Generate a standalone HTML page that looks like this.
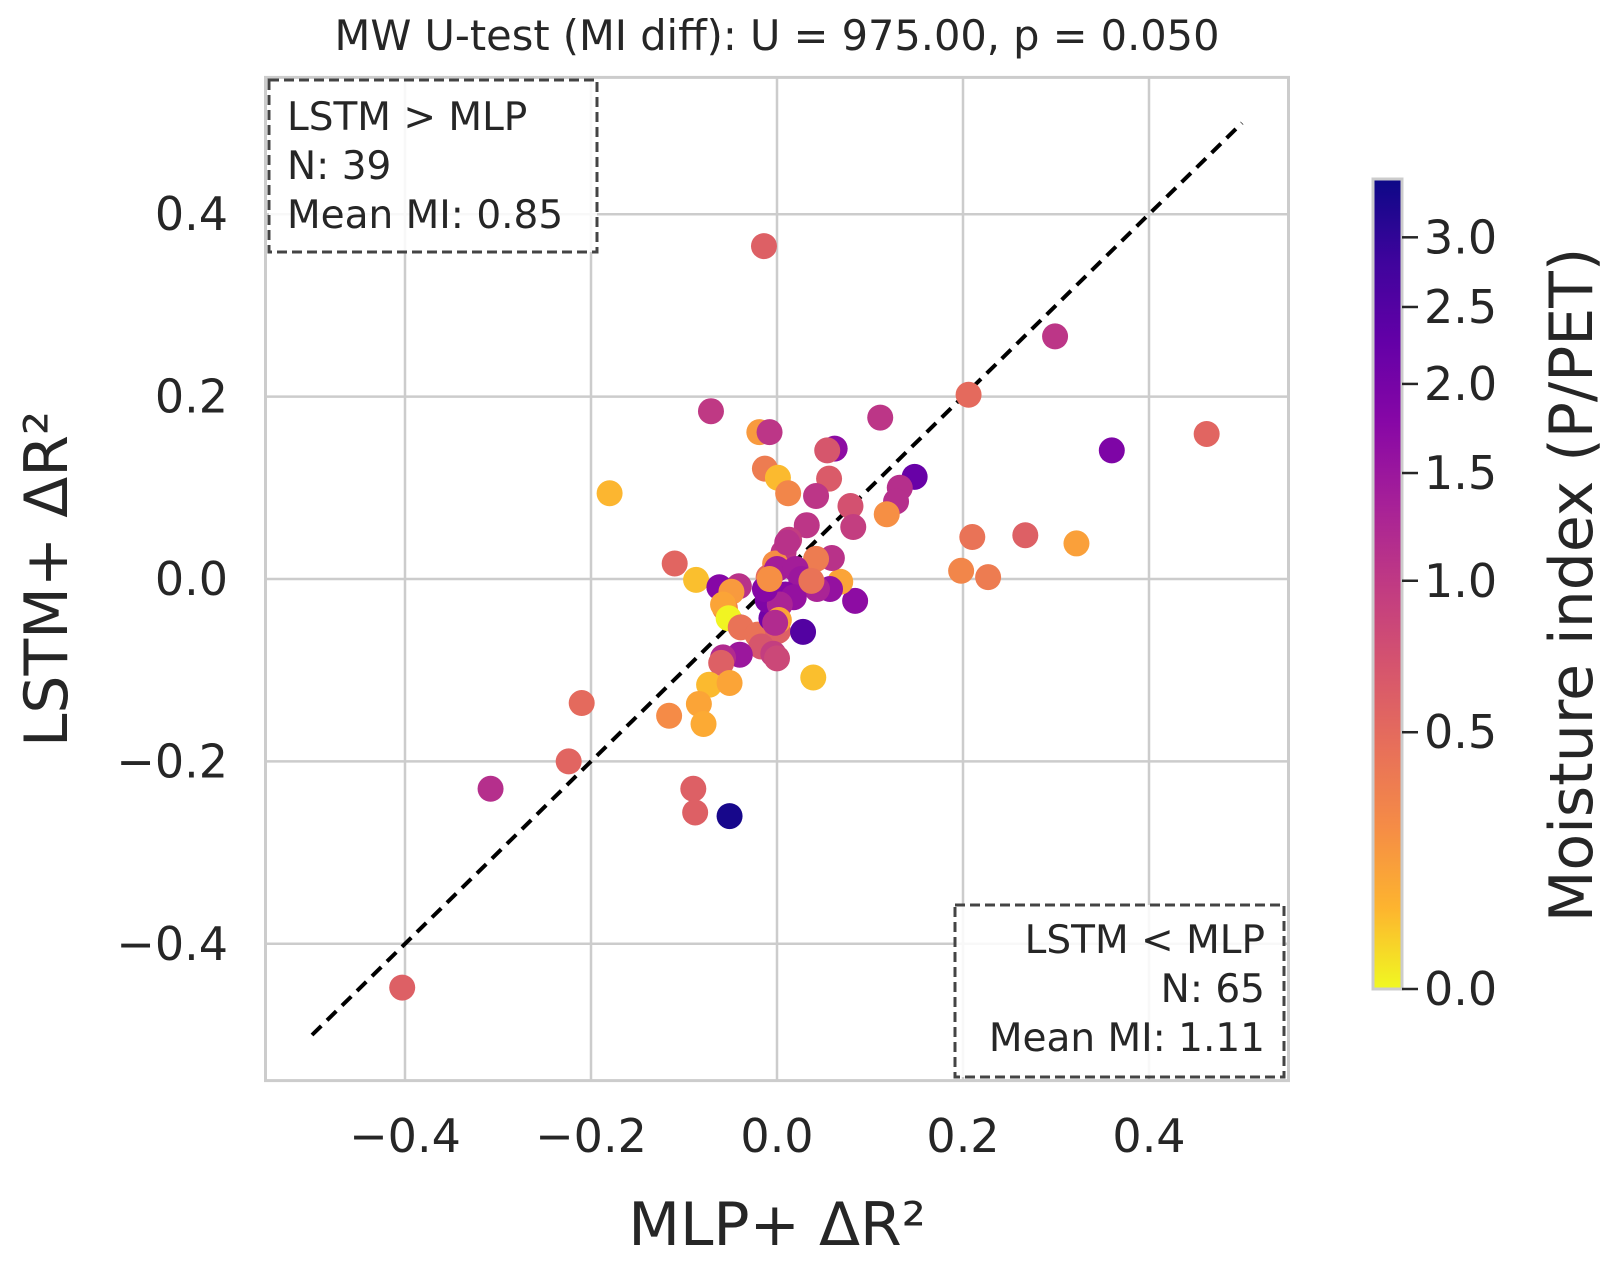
<!DOCTYPE html>
<html><head><meta charset="utf-8"><style>
html,body{margin:0;padding:0;background:#fff;}
svg{display:block;font-family:"DejaVu Sans","Liberation Sans",sans-serif;}
</style></head><body>
<svg id="chart" width="1621" height="1262" viewBox="0 0 1621 1262" xmlns="http://www.w3.org/2000/svg">
<defs><linearGradient id="cbgrad" x1="0" y1="1" x2="0" y2="0">
<stop offset="0" stop-color="#f0f921"/><stop offset="0.1" stop-color="#fdb42f"/><stop offset="0.2" stop-color="#f58c46"/><stop offset="0.3" stop-color="#e76f5a"/><stop offset="0.4" stop-color="#d5546e"/><stop offset="0.5" stop-color="#c03a83"/><stop offset="0.6" stop-color="#a62098"/><stop offset="0.7" stop-color="#8707a6"/><stop offset="0.8" stop-color="#6300a7"/><stop offset="0.9" stop-color="#3e049c"/><stop offset="1" stop-color="#0d0887"/>
</linearGradient></defs>
<text x="777" y="50" font-size="41.5" text-anchor="middle" fill="#262626">MW U-test (MI diff): U = 975.00, p = 0.050</text>
<g id="grid"></g>
<g id="ticks"></g>
<line id="diag" stroke="#000" stroke-width="4" stroke-dasharray="13,8"/>
<g id="points"></g>
<rect id="frame" fill="none" stroke="#cccccc" stroke-width="3"/>
<g>
<rect x="269" y="80" width="328" height="172" fill="rgba(255,255,255,0.85)" stroke="#444" stroke-width="3" stroke-dasharray="10,5"/>
<text x="287" y="130" font-size="39" fill="#262626">LSTM &gt; MLP</text>
<text x="287" y="179" font-size="39" fill="#262626">N: 39</text>
<text x="287" y="228" font-size="39" fill="#262626">Mean MI: 0.85</text>
</g>
<g>
<rect x="955" y="905" width="329" height="172" fill="rgba(255,255,255,0.85)" stroke="#444" stroke-width="3" stroke-dasharray="10,5"/>
<text x="1265" y="953" font-size="39" fill="#262626" text-anchor="end">LSTM &lt; MLP</text>
<text x="1265" y="1002" font-size="39" fill="#262626" text-anchor="end">N: 65</text>
<text x="1265" y="1051" font-size="39" fill="#262626" text-anchor="end">Mean MI: 1.11</text>
</g>
<text x="777" y="1245" font-size="60" text-anchor="middle" fill="#262626">MLP+ ΔR²</text>
<text x="0" y="0" font-size="60" text-anchor="middle" fill="#262626" transform="translate(67,579) rotate(-90)">LSTM+ ΔR²</text>
<rect x="1373" y="179" width="29" height="810" fill="url(#cbgrad)" stroke="#cccccc" stroke-width="3"/>
<g id="cbticks"></g>
<text x="0" y="0" font-size="60" text-anchor="middle" fill="#262626" transform="translate(1592,585) rotate(-90)">Moisture index (P/PET)</text>
</svg>
<script>
const xTicks=[-0.4,-0.2,0.0,0.2,0.4];
const yTicks=[-0.4,-0.2,0.0,0.2,0.4];
const cbTickVals=[0,0.5,1.0,1.5,2.0,2.5,3.0];
const cbTickFrac=[0,0.317,0.504,0.637,0.747,0.842,0.928];
const mlpDelta=[-0.014,0.299,0.206,0.462,0.36,-0.071,-0.019,-0.008,0.111,-0.18,-0.013,0.001,0.012,0.062,0.054,0.056,0.148,0.132,0.128,0.118,0.079,0.082,0.042,0.032,0.21,0.267,0.322,0.198,0.227,-0.11,-0.087,-0.062,-0.041,-0.049,-0.056,-0.058,-0.052,-0.039,-0.021,-0.006,0.001,0.028,-0.017,-0.004,0,-0.04,-0.058,-0.06,-0.073,-0.051,0.039,-0.116,-0.084,-0.079,-0.21,-0.224,-0.308,-0.09,-0.088,-0.051,-0.403,0.084,0.068,0.057,0.043,0.059,0.042,0.013,0.007,-0.002,-0.009,0,0.02,0.026,0.009,-0.01,0.018,0.003,0.002,-0.002,0.037,-0.013,0.011,-0.008];
const lstmDelta=[0.365,0.266,0.202,0.159,0.141,0.184,0.161,0.161,0.177,0.094,0.121,0.111,0.094,0.143,0.141,0.11,0.112,0.1,0.085,0.071,0.08,0.057,0.091,0.059,0.046,0.048,0.039,0.009,0.002,0.017,-0.001,-0.009,-0.008,-0.014,-0.032,-0.028,-0.043,-0.053,-0.061,-0.043,-0.057,-0.058,-0.074,-0.082,-0.087,-0.083,-0.086,-0.092,-0.116,-0.114,-0.108,-0.15,-0.137,-0.159,-0.136,-0.2,-0.23,-0.23,-0.256,-0.26,-0.448,-0.024,-0.003,-0.011,-0.011,0.023,0.022,0.043,0.029,0.017,0.002,0.011,0.011,0,-0.017,-0.023,-0.02,-0.028,-0.045,-0.048,-0.002,-0.011,0.04,0];
const moisture=[0.6,1.05,0.5,0.55,1.9,1.0,0.25,1.05,1.05,0.14,0.4,0.13,0.35,1.7,0.7,0.65,2.2,1.15,1.15,0.3,0.75,0.95,1.05,1.05,0.45,0.6,0.22,0.35,0.4,0.55,0.12,1.8,1.1,0.25,0.35,0.2,0.01,0.45,0.45,2.1,0.6,2.5,0.7,0.95,0.85,1.5,1.2,0.6,0.13,0.2,0.12,0.32,0.2,0.17,0.5,0.55,1.15,0.6,0.6,3.3,0.6,1.7,0.2,1.6,1.3,1.1,0.4,0.95,1.05,0.3,0.5,1.4,1.4,1.5,1.8,1.9,1.6,1.3,0.2,1.2,0.45,1.8,1.1,0.3];
const X0=777,XU=930,Y0=579,YU=912,CB_TOP=179,CB_BOT=989;
const PL=X0-0.55*XU,PR=X0+0.55*XU,PT=Y0-0.55*YU,PB=Y0+0.55*YU;
const xs=v=>X0+v*XU, ys=v=>Y0-v*YU;
const NS="http://www.w3.org/2000/svg";
function mk(t,a,p){const e=document.createElementNS(NS,t);for(const k in a)e.setAttribute(k,a[k]);p.appendChild(e);return e;}
const fr=document.getElementById('frame');
fr.setAttribute('x',PL);fr.setAttribute('y',PT);fr.setAttribute('width',PR-PL);fr.setAttribute('height',PB-PT);
const grid=document.getElementById('grid'),ticks=document.getElementById('ticks');
const fmt=v=>(v<0?'\u2212':'')+Math.abs(v).toFixed(1);
xTicks.forEach(v=>{
 const l=mk('line',{x1:xs(v),x2:xs(v),y1:PT,y2:PB,stroke:'#cccccc','stroke-width':2.5},grid);
 
 
 const t=mk('text',{x:xs(v),y:1152,'font-size':46,'text-anchor':'middle',fill:'#262626'},ticks);
 t.textContent=fmt(v);
 
 
});
yTicks.forEach(v=>{
 const l=mk('line',{x1:PL,x2:PR,y1:ys(v),y2:ys(v),stroke:'#cccccc','stroke-width':2.5},grid);
 
 
 const t=mk('text',{x:228,y:ys(v)+16,'font-size':46,'text-anchor':'end',fill:'#262626'},ticks);
 t.textContent=fmt(v);
 
 
});
const d=document.getElementById('diag');
d.setAttribute('x1',xs(-0.5));d.setAttribute('y1',ys(-0.5));d.setAttribute('x2',xs(0.5));d.setAttribute('y2',ys(0.5));
function frac(v){
 for(let i=0;i<cbTickVals.length-1;i++){if(v<=cbTickVals[i+1]){const a=cbTickVals[i],b=cbTickVals[i+1];return cbTickFrac[i]+(v-a)/(b-a)*(cbTickFrac[i+1]-cbTickFrac[i]);}}
 const n=cbTickVals.length-1;return Math.min(1,cbTickFrac[n]+(v-cbTickVals[n])*(cbTickFrac[n]-cbTickFrac[n-1])/(cbTickVals[n]-cbTickVals[n-1]));
}
const plasma=[[13,8,135],[62,4,156],[99,0,167],[135,7,166],[166,32,152],[192,58,131],[213,84,110],[231,111,90],[245,140,70],[253,173,50],[240,249,33]];
function color(v){
 const t=1-frac(v);const s=t*10;const i=Math.min(9,Math.floor(s));const f=s-i;
 const c=plasma[i].map((x,k)=>Math.round(x+(plasma[i+1][k]-x)*f));return `rgb(${c[0]},${c[1]},${c[2]})`;
}
const cbt=document.getElementById('cbticks');
cbTickVals.forEach((v,i)=>{
 const y=CB_BOT-cbTickFrac[i]*(CB_BOT-CB_TOP);
 const l=mk('line',{x1:1402,x2:1418,y1:y,y2:y,stroke:'#262626','stroke-width':2.5},cbt);
 
 
 const t=mk('text',{x:1424,y:y+16,'font-size':46,fill:'#262626'},cbt);
 t.textContent=v.toFixed(1);
 
 
});
const pts=document.getElementById('points');
mlpDelta.forEach((v,i)=>{
 const c=mk('circle',{cx:xs(v),cy:ys(lstmDelta[i]),r:13,fill:color(moisture[i])},pts);
 
 
});
</script>
</body></html>
